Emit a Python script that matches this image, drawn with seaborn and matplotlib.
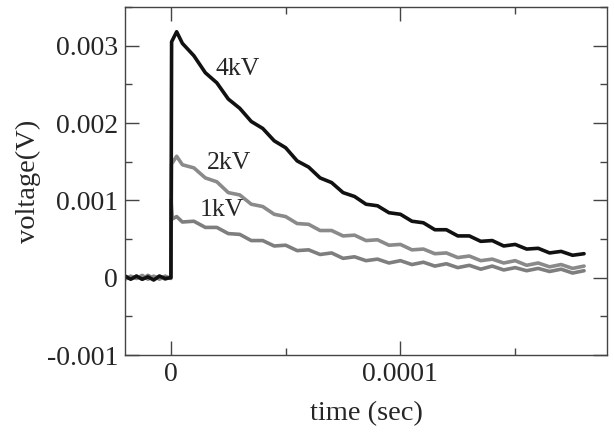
import numpy as np
import pandas as pd
import seaborn as sns
from matplotlib import pyplot as plt
from matplotlib.ticker import MultipleLocator

# time in microseconds, voltage in mV
t_base = [-20, -17.5, -15, -12.5, -10, -7.5, -5, -2.5, 0]
base_4kv = [0.02, -0.02, 0.02, -0.02, 0.01, -0.03, 0.02, -0.01, 0.00]
base_2kv = [-0.02, 0.02, -0.01, 0.03, -0.02, 0.02, -0.02, 0.02, -0.01]
base_1kv = [0.02, -0.01, 0.02, -0.02, 0.03, -0.01, 0.02, -0.02, 0.01]

t_decay = [0.3, 2.5, 5, 10, 15, 20, 25, 30, 35, 40, 45, 50, 55, 60, 65, 70, 75, 80,
           85, 90, 95, 100, 105, 110, 115, 120, 125, 130, 135, 140, 145, 150,
           155, 160, 165, 170, 175, 180]
v_4kv = [3.05, 3.18, 3.03, 2.87, 2.65, 2.52, 2.31, 2.19, 2.02, 1.93, 1.77, 1.68,
         1.51, 1.43, 1.29, 1.23, 1.10, 1.05, 0.95, 0.93, 0.84, 0.82, 0.73, 0.71,
         0.62, 0.62, 0.54, 0.54, 0.47, 0.48, 0.41, 0.43, 0.37, 0.38, 0.32, 0.34,
         0.29, 0.31]
v_2kv = [1.47, 1.57, 1.46, 1.42, 1.29, 1.24, 1.10, 1.07, 0.95, 0.92, 0.82, 0.79,
         0.70, 0.69, 0.61, 0.61, 0.54, 0.55, 0.48, 0.49, 0.42, 0.43, 0.36, 0.37,
         0.31, 0.32, 0.26, 0.28, 0.22, 0.24, 0.19, 0.22, 0.16, 0.19, 0.14, 0.17,
         0.12, 0.15]
t_1kv = [0.05, 0.6, 2.5, 5, 10, 15, 20, 25, 30, 35, 40, 45, 50, 55, 60, 65, 70, 75,
         80, 85, 90, 95, 100, 105, 110, 115, 120, 125, 130, 135, 140, 145, 150,
         155, 160, 165, 170, 175, 180]
v_1kv = [1.00, 0.76, 0.79, 0.72, 0.73, 0.65, 0.65, 0.57, 0.56, 0.48, 0.48, 0.41,
         0.42, 0.35, 0.36, 0.30, 0.32, 0.25, 0.27, 0.22, 0.24, 0.19, 0.22, 0.17,
         0.20, 0.15, 0.18, 0.13, 0.16, 0.11, 0.15, 0.10, 0.13, 0.09, 0.12, 0.08,
         0.11, 0.06, 0.09]

colors = {"4kV": "#111111", "2kV": "#8a8a8a", "1kV": "#7e7e7e"}

frames = []
for name, tb, vb, td, vd in [("1kV", t_base, base_1kv, t_1kv, v_1kv),
                             ("2kV", t_base, base_2kv, t_decay, v_2kv),
                             ("4kV", t_base, base_4kv, t_decay, v_4kv)]:
    t = np.array(tb + td) * 1e-6
    v = np.array(vb + vd) * 1e-3
    frames.append(pd.DataFrame({"time": t, "voltage": v, "series": name}))
df = pd.concat(frames, ignore_index=True)

sns.set_style("ticks")
plt.rcParams['font.family'] = ['Liberation Serif', 'DejaVu Serif']

fig = plt.figure(figsize=(6.14, 4.33), dpi=100)
ax = fig.add_axes([0.2036, 0.1801, 0.785, 0.8037])

sns.lineplot(data=df, x="time", y="voltage", hue="series", palette=colors,
             estimator=None, sort=False, linewidth=2.6, legend=False, ax=ax)

ax.set_xlim(-2e-5, 1.9e-4)
ax.set_ylim(-0.001, 0.0035)
ax.set_xticks([0, 0.0001])
ax.set_xticklabels(["0", "0.0001"])
ax.xaxis.set_minor_locator(MultipleLocator(5e-5))
ax.set_yticks([-0.001, 0, 0.001, 0.002, 0.003])
ax.set_yticklabels(["-0.001", "0", "0.001", "0.002", "0.003"])
ax.yaxis.set_minor_locator(MultipleLocator(5e-4))
ax.tick_params(which="both", direction="in", top=True, right=True,
               labelsize=20, width=1, color="#444444")
ax.tick_params(which="major", length=10, pad=5)
ax.tick_params(which="minor", length=5)
for s in ax.spines.values():
    s.set_color("#444444")
    s.set_linewidth(1)

ax.set_xlabel("time (sec)", fontsize=20.5, labelpad=10)
ax.set_ylabel("voltage(V)", fontsize=20.5, labelpad=4)

ax.text(2.91e-5, 0.00270, "4kV", fontsize=18.5, ha="center", va="center")
ax.text(2.52e-5, 0.00148, "2kV", fontsize=18.5, ha="center", va="center")
ax.text(2.24e-5, 0.00087, "1kV", fontsize=18.5, ha="center", va="center")

plt.savefig("out.png", dpi=100)
